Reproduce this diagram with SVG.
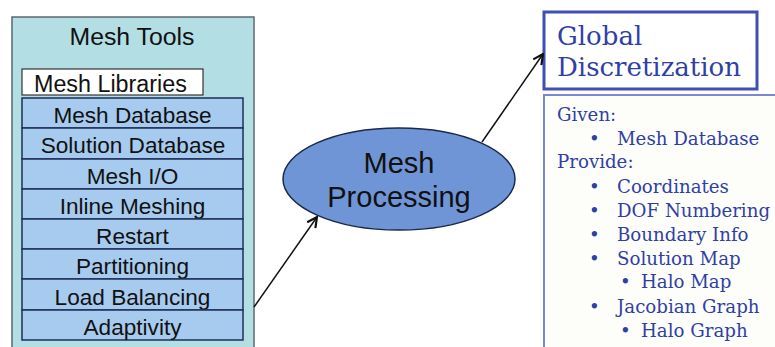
<svg xmlns="http://www.w3.org/2000/svg" width="775" height="347" viewBox="0 0 775 347">
<defs>
<style>
.sans{font-family:"Liberation Sans",Arial,sans-serif;fill:#111;}
.row{fill:#a7cbef;stroke:#1f2f5a;stroke-width:1.5;}
.item{font-size:22.6px;text-anchor:middle;}
.ser{font-family:"DejaVu Serif","Liberation Serif",serif;fill:#2f3fa6;}
.li{font-size:18.2px;}
.conn{stroke:#111;stroke-width:1.5;fill:none;}
</style>
<marker id="ah" viewBox="0 0 12 12" refX="11" refY="6" markerWidth="12" markerHeight="12" markerUnits="userSpaceOnUse" orient="auto">
<path d="M1,1 L11,6 L1,11" fill="none" stroke="#111" stroke-width="2.2"/>
</marker>
</defs>
<rect width="775" height="347" fill="#ffffff"/>
<g id="mesh-tools">
<rect x="12" y="17" width="242" height="336" fill="#b3dfe4" stroke="#5a6a70" stroke-width="1.5"/>
<text class="sans" x="132" y="45" font-size="24.8" text-anchor="middle">Mesh Tools</text>
</g>
<g id="mesh-libraries">
<rect x="22" y="69" width="181" height="26" fill="#ffffff" stroke="#333" stroke-width="1.2"/>
<text class="sans" x="34" y="92" font-size="23.3">Mesh Libraries</text>
</g>
<g id="mesh-database"><rect class="row" x="22" y="98" width="221" height="30"/><text class="sans item" x="132.5" y="123">Mesh Database</text></g>
<g id="solution-database"><rect class="row" x="22" y="128" width="221" height="31"/><text class="sans item" x="133" y="153">Solution Database</text></g>
<g id="mesh-io"><rect class="row" x="22" y="159" width="221" height="30"/><text class="sans item" x="132.5" y="184">Mesh I/O</text></g>
<g id="inline-meshing"><rect class="row" x="22" y="189" width="221" height="30"/><text class="sans item" x="132.5" y="214">Inline Meshing</text></g>
<g id="restart"><rect class="row" x="22" y="219" width="221" height="30"/><text class="sans item" x="132.5" y="244">Restart</text></g>
<g id="partitioning"><rect class="row" x="22" y="249" width="221" height="30"/><text class="sans item" x="132.5" y="274">Partitioning</text></g>
<g id="load-balancing"><rect class="row" x="22" y="279" width="221" height="31"/><text class="sans item" x="132.5" y="305">Load Balancing</text></g>
<g id="adaptivity"><rect class="row" x="22" y="310" width="221" height="30"/><text class="sans item" x="132.5" y="335">Adaptivity</text></g>
<g id="mesh-processing">
<ellipse cx="399" cy="179" rx="116" ry="51" fill="#7095d6" stroke="#1a2a4a" stroke-width="1.5"/>
<text class="sans" x="399" y="173" font-size="29" text-anchor="middle">Mesh</text>
<text class="sans" x="399" y="207" font-size="29" text-anchor="middle">Processing</text>
</g>
<g id="global-discretization">
<rect x="544" y="12" width="213" height="77" fill="#ffffff" stroke="#3f4fb5" stroke-width="3"/>
<text class="ser" x="557" y="45" font-size="26">Global</text>
<text class="ser" x="557" y="76" font-size="26">Discretization</text>
</g>
<g id="details">
<rect x="544" y="95" width="240" height="260" fill="#fdfdf9" stroke="#7d86d0" stroke-width="2"/>
<text class="ser li" x="557" y="121">Given:</text>
<text class="ser li" x="589" y="145">•</text><text class="ser li" x="617" y="145">Mesh Database</text>
<text class="ser li" x="557" y="168">Provide:</text>
<text class="ser li" x="589" y="193">•</text><text class="ser li" x="617" y="193">Coordinates</text>
<text class="ser li" x="589" y="217">•</text><text class="ser li" x="617" y="217">DOF Numbering</text>
<text class="ser li" x="589" y="241">•</text><text class="ser li" x="617" y="241">Boundary Info</text>
<text class="ser li" x="589" y="265">•</text><text class="ser li" x="617" y="265">Solution Map</text>
<text class="ser li" x="620" y="288">•</text><text class="ser li" x="641" y="288">Halo Map</text>
<text class="ser li" x="589" y="313">•</text><text class="ser li" x="617" y="313">Jacobian Graph</text>
<text class="ser li" x="620" y="337">•</text><text class="ser li" x="641" y="337">Halo Graph</text>
</g>
<g id="connectors">
<line class="conn" x1="254" y1="307" x2="317" y2="217" marker-end="url(#ah)"/>
<line class="conn" x1="482" y1="142" x2="543" y2="54" marker-end="url(#ah)"/>
</g>
</svg>
